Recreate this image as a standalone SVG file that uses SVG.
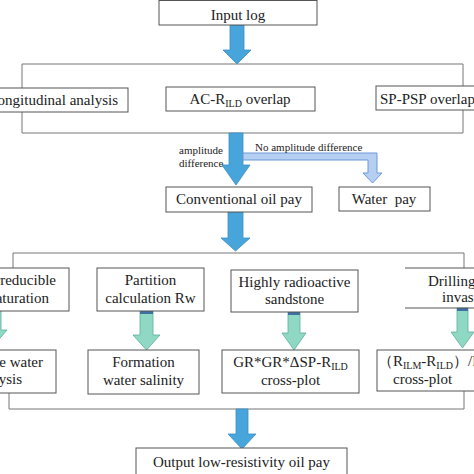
<svg xmlns="http://www.w3.org/2000/svg" width="474" height="474" viewBox="0 0 474 474">
<style>
.box{fill:#fff;stroke:#555;stroke-width:1}
.ln{fill:none;stroke:#777;stroke-width:1}
.t{font-family:"Liberation Serif","Times New Roman",serif;font-size:15px;fill:#222}
.s{font-family:"Liberation Serif","Times New Roman",serif;font-size:11px;fill:#222}
.sub{font-size:10px}
.blue{fill:#47a5dc;stroke:#3a8fc6;stroke-width:0.8}
.lb{fill:#b5cff2;stroke:#6d97d6;stroke-width:1}
.gr{fill:#8fd9c4;stroke:#5cae9e;stroke-width:0.8}
.cap{fill:#3f6fa3}
</style>
<rect width="474" height="474" fill="#fff"/>
<g id="connectors">
<path class="ln" d="M22,88V64H463V86"/>
<path class="ln" d="M22,112V133H463V110"/>
<path class="ln" d="M13,268V253H464V268"/>
<path class="ln" d="M9,393V409H464V391"/>
<polygon class="blue" points="230,25 244,25 244,50 251,50 237,64 223,50 230,50"/>
<polygon class="blue" points="229,133 243,133 243,165 250,165 236,185 222,165 229,165"/>
<polygon class="lb" points="243,153 377,153 377,173 382,173 372.5,183 363,173 368,173 368,160 243,160"/>
<polygon class="blue" points="228,212 243,212 243,238 250,238 235.5,251 221,238 228,238"/>
<polygon class="blue" points="236,409 248,409 248,434 256,434 242,449 228,434 236,434"/>
<polygon class="gr" points="-11,311 1,311 1,330 7,330 -5,344 -17,330 -11,330"/>
<polygon class="gr" points="140,311 153,311 153,335 160,335 146.5,350 133,335 140,335"/>
<rect class="cap" x="140" y="311" width="13" height="3"/>
<polygon class="gr" points="288,312 300,312 300,333 306,333 294,350 282,333 288,333"/>
<rect class="cap" x="288" y="312" width="12" height="3"/>
<polygon class="gr" points="457,308 468,308 468,332 474,332 462.5,348 451,332 457,332"/>
<rect class="cap" x="457" y="308" width="11" height="3"/>
</g>
<g id="input-log"><rect class="box" x="159" y="0.5" width="158" height="24.5"/><text class="t" x="238" y="20" text-anchor="middle">Input log</text></g>
<g id="longitudinal"><rect class="box" x="-2" y="88" width="130" height="24"/><text class="t" x="118" y="105" text-anchor="end">Longitudinal analysis</text></g>
<g id="ac-rild"><rect class="box" x="166" y="87" width="149" height="24"/><text class="t" x="240" y="104" text-anchor="middle">AC-R<tspan class="sub" dy="3">ILD</tspan><tspan dy="-3"> overlap</tspan></text></g>
<g id="sp-psp"><rect class="box" x="376" y="86" width="110" height="24"/><text class="t" x="380" y="104">SP-PSP overlap</text></g>
<g id="labels">
<text class="s" x="179" y="154">amplitude</text>
<text class="s" x="179" y="167">difference</text>
<text class="s" x="255" y="151">No amplitude difference</text>
</g>
<g id="conventional"><rect class="box" x="166" y="187" width="146" height="25"/><text class="t" x="239" y="204" text-anchor="middle">Conventional oil pay</text></g>
<g id="water-pay"><rect class="box" x="339" y="187" width="91" height="24"/><text class="t" x="384" y="204" text-anchor="middle" xml:space="preserve">Water  pay</text></g>
<g id="irreducible"><rect class="box" x="-2" y="268" width="71" height="43"/><text class="t" x="56" y="285" text-anchor="end">Irreducible</text><text class="t" x="49" y="303" text-anchor="end">saturation</text></g>
<g id="partition"><rect class="box" x="97" y="268" width="107" height="43"/><text class="t" x="150.5" y="285" text-anchor="middle">Partition</text><text class="t" x="150.5" y="303" text-anchor="middle">calculation Rw</text></g>
<g id="highly"><rect class="box" x="231" y="270" width="127" height="42"/><text class="t" x="294.5" y="287" text-anchor="middle">Highly radioactive</text><text class="t" x="294.5" y="304" text-anchor="middle">sandstone</text></g>
<g id="drilling"><path class="box" d="M405,268H480M405,308H480"/><text class="t" x="428" y="286">Drilling</text><text class="t" x="442" y="302">invasion</text></g>
<g id="water-analysis"><rect class="box" x="-2" y="350" width="58" height="43"/><text class="t" x="43" y="367" text-anchor="end">e water</text><text class="t" x="22" y="384" text-anchor="end">ysis</text></g>
<g id="formation"><rect class="box" x="88" y="350" width="111" height="44"/><text class="t" x="143.5" y="367" text-anchor="middle">Formation</text><text class="t" x="143.5" y="385" text-anchor="middle">water salinity</text></g>
<g id="gr-cross"><rect class="box" x="222" y="350" width="137" height="43"/><text class="t" x="290.5" y="367" text-anchor="middle">GR*GR*ΔSP-R<tspan class="sub" dy="3">ILD</tspan></text><text class="t" x="290.5" y="385" text-anchor="middle">cross-plot</text></g>
<g id="rilm-cross"><rect class="box" x="377" y="350" width="110" height="41"/><text class="t" x="378" y="366">（R<tspan class="sub" dy="3">ILM</tspan><tspan dy="-3">-R</tspan><tspan class="sub" dy="3">ILD</tspan><tspan dy="-3">）/R</tspan></text><text class="t" x="393" y="384">cross-plot</text></g>
<g id="output"><rect class="box" x="136" y="448" width="211" height="27"/><text class="t" x="241.5" y="467" text-anchor="middle">Output low-resistivity oil pay</text></g>
</svg>
